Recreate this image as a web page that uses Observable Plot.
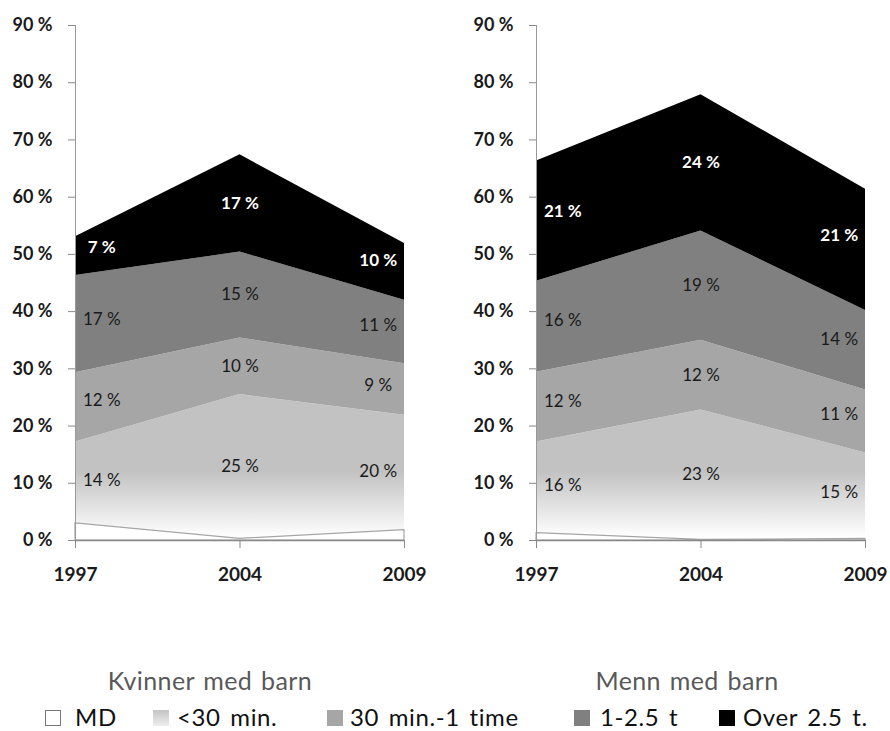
<!DOCTYPE html>
<html>
<head>
<meta charset="utf-8">
<script src="https://cdn.jsdelivr.net/npm/d3@7"></script>
<script src="https://cdn.jsdelivr.net/npm/@observablehq/plot@0.6"></script>
<style>
  body { margin: 0; background: #fff; font-family: Lato, "Open Sans", sans-serif; }
  #wrap { position: relative; width: 890px; height: 731px; overflow: hidden; background: #fff; }
  .panel { position: absolute; top: 0; }
  .title { position: absolute; top: 665px; font-size: 25px; line-height: 30px; color: #595959; text-align: center; width: 300px; letter-spacing: 0.4px; word-spacing: 2px; }
  .legtxt { position: absolute; top: 705px; font-size: 24px; line-height: 24px; color: #111; white-space: nowrap; letter-spacing: 0.6px; word-spacing: 3px; }
  .sw { position: absolute; top: 710px; width: 16px; height: 16px; box-sizing: border-box; }
</style>
</head>
<body>
<div id="wrap"></div>
<script>
const years = [1997, 2004, 2009];
const yTicks = [0, 10, 20, 30, 40, 50, 60, 70, 80, 90];
const categories = ["MD", "<30 min.", "30 min.-1 time", "1-2.5 t", "Over 2.5 t."];
const panelTitles = ["Kvinner med barn", "Menn med barn"];

// Kvinner med barn (percent)
const kvinnerMD = [3.0, 0.3, 1.8];
const kvinnerUnder30 = [14.2, 25.2, 20.1];
const kvinner30to60 = [12.1, 9.9, 9.0];
const kvinner1to2_5 = [17.0, 15.0, 11.1];
const kvinnerOver2_5 = [6.8, 17.0, 9.9];

// Menn med barn (percent)
const mennMD = [1.3, 0.1, 0.3];
const mennUnder30 = [15.9, 22.7, 15.0];
const menn30to60 = [12.2, 12.2, 11.0];
const menn1to2_5 = [15.9, 19.1, 13.9];
const mennOver2_5 = [21.0, 23.8, 21.2];

const wrap = document.getElementById("wrap");
const yearIdx = years.map((_, j) => j);

function makePanel(series, gradId, left, ml, mr) {
  const rows = categories.flatMap((c, i) => years.map((yr, j) => ({xi: j, year: yr, cat: c, value: series[i][j]})));
  // cumulative bounds for label placement
  const lower = [], upper = [];
  let acc = years.map(() => 0);
  series.forEach((s) => {
    lower.push(acc.slice());
    acc = acc.map((a, j) => a + s[j]);
    upper.push(acc.slice());
  });
  const labels = [];
  for (let i = 1; i < categories.length; i++) {
    for (let j = 0; j < years.length; j++) {
      const f = j === 1 ? 0 : 0.16;
      const nj = 1;
      const lo = lower[i][j] + f * (lower[i][nj] - lower[i][j]);
      const up = upper[i][j] + f * (upper[i][nj] - upper[i][j]);
      labels.push({
        x: j + f * (nj - j),
        y: (lo + up) / 2,
        text: `${Math.round(series[i][j])} %`,
        dark: i === categories.length - 1
      });
    }
  }
  const mdRows = rows.filter(d => d.cat === "MD");
  const svg = Plot.plot({
    width: 445, height: 600,
    marginLeft: ml, marginRight: mr, marginTop: 25, marginBottom: 60,
    style: {fontFamily: "Lato, 'Open Sans', sans-serif", color: "#1a1a1a", background: "transparent"},
    x: {domain: [0, years.length - 1]},
    y: {domain: [0, 90]},
    color: {domain: categories, range: ["#ffffff", `url(#${gradId})`, "#a6a6a6", "#808080", "#000000"]},
    marks: [
      Plot.areaY(rows, {x: "xi", y: "value", z: "cat", fill: "cat", order: categories}),
      Plot.areaY(mdRows, {x: "xi", y: "value", fill: "#ffffff", stroke: "#a6a6a6", strokeWidth: 1.2}),
      Plot.ruleY([0], {stroke: "#888", strokeWidth: 1.5}),
      Plot.ruleX([0], {y1: 0, y2: 90, stroke: "#999"}),
      Plot.axisY({ticks: yTicks, tickFormat: d => `${d} %`, tickSize: 7, tickPadding: 16,
                  fontSize: 18, fontWeight: "bold", label: null, stroke: "#888", fill: "#1a1a1a"}),
      Plot.axisX({ticks: yearIdx, tickFormat: i => String(years[i]), tickSize: 8, tickPadding: 19,
                  fontSize: 19, fontWeight: "bold", label: null, stroke: "#888", fill: "#1a1a1a"}),
      Plot.text(labels.filter(d => !d.dark), {x: "x", y: "y", text: "text", fill: "#1a1a1a", fontSize: 17}),
      Plot.text(labels.filter(d => d.dark), {x: "x", y: "y", text: "text", fill: "#ffffff", fontSize: 17, fontWeight: "bold"})
    ]
  });
  const ys = svg.scale("y");
  const defs = d3.select(svg).insert("defs", ":first-child");
  const g = defs.append("linearGradient").attr("id", gradId)
    .attr("gradientUnits", "userSpaceOnUse")
    .attr("x1", 0).attr("x2", 0)
    .attr("y1", ys.apply(0.5)).attr("y2", ys.apply(12));
  g.append("stop").attr("offset", 0).attr("stop-color", "#ffffff");
  g.append("stop").attr("offset", 1).attr("stop-color", "#c2c2c2");
  const div = document.createElement("div");
  div.className = "panel";
  div.style.left = left + "px";
  div.appendChild(svg);
  wrap.appendChild(div);
}

makePanel([kvinnerMD, kvinnerUnder30, kvinner30to60, kvinner1to2_5, kvinnerOver2_5], "gradK", 0, 75, 41);
makePanel([mennMD, mennUnder30, menn30to60, menn1to2_5, mennOver2_5], "gradM", 445, 91, 25);

// panel titles
[[panelTitles[0], 210], [panelTitles[1], 687]].forEach(([t, cx]) => {
  const d = document.createElement("div");
  d.className = "title";
  d.style.left = (cx - 150) + "px";
  d.textContent = t;
  wrap.appendChild(d);
});

// legend
const swatches = [
  "background:#fff;border:1px solid #777;",
  "background:linear-gradient(to bottom,#c4c4c4,#eeeeee);",
  "background:#a6a6a6;",
  "background:#808080;",
  "background:#000;"
];
const swX = [45, 153, 327, 574, 719];
const txtX = [75, 177, 350, 600, 743];
categories.forEach((c, i) => {
  const s = document.createElement("span");
  s.className = "sw";
  s.style.cssText += swatches[i] + `left:${swX[i]}px;`;
  wrap.appendChild(s);
  const t = document.createElement("span");
  t.className = "legtxt";
  t.style.left = txtX[i] + "px";
  t.textContent = c;
  wrap.appendChild(t);
});
</script>
</body>
</html>
